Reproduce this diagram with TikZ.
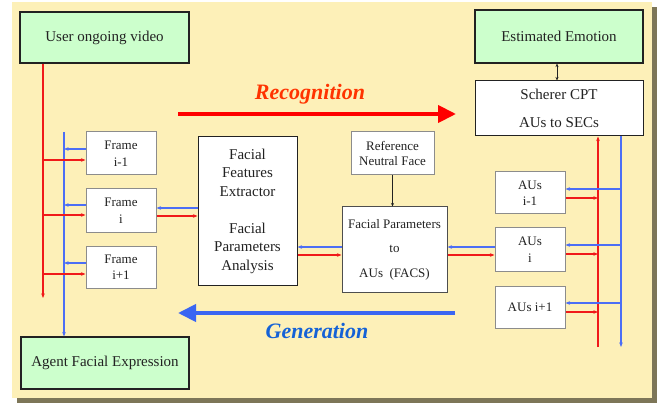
\documentclass[tikz,border=0pt]{standalone}
\usepackage{fontspec}
\setmainfont{Liberation Serif}
\usetikzlibrary{arrows.meta}

\definecolor{panel}{HTML}{FDF0B8}
\definecolor{shadow}{HTML}{7D7658}
\definecolor{mint}{HTML}{CCFFCC}
\definecolor{rline}{HTML}{F01A1A}
\definecolor{bline}{HTML}{4C6EF5}
\definecolor{bigred}{HTML}{FF0000}
\definecolor{bigblue}{HTML}{3A66F2}
\definecolor{rtext}{HTML}{FF3300}
\definecolor{btext}{HTML}{1562D6}
\definecolor{ink}{HTML}{222222}
\definecolor{edge}{HTML}{8C8C8C}

\tikzset{
  box/.style={draw, inner sep=0pt, align=center, text=ink},
  greenbox/.style={box, fill=mint, draw=ink, line width=1.1pt,
    font=\fontsize{15}{18}\selectfont},
  darkbox/.style={box, fill=white, draw=ink, line width=1pt},
  greybox/.style={box, fill=white, draw=edge, line width=1pt,
    font=\fontsize{13}{16.5}\selectfont},
  redwire/.style={draw=rline, line width=1.4pt},
  bluewire/.style={draw=bline, line width=1.3pt},
  tipend/.style={-{Stealth[length=4.5pt,width=3.5pt]}},
  bigarrow/.style={line width=4pt, -{Triangle[length=18pt,width=17pt]}},
  flowlabel/.style={font=\fontsize{22}{26}\selectfont\bfseries\itshape},
}

\begin{document}
\begin{tikzpicture}[x=1pt,y=-1pt]
\useasboundingbox (0,0) rectangle (663,403);

% panel with drop shadow
\fill[shadow] (17,7) rectangle (657,403);
\fill[panel] (12,2) rectangle (652,398);

% main blocks
\node[greenbox, minimum width=169pt, minimum height=51pt] (video) at (104.5,37.5) {User ongoing video};
\node[greenbox, minimum width=168pt, minimum height=53pt] (emotion) at (559,36.5) {Estimated Emotion};
\node[darkbox, minimum width=168pt, minimum height=55pt, font=\fontsize{15}{18}\selectfont]
  (scherer) at (559,108.5) {Scherer CPT\\[10pt]AUs to SECs};
\node[greenbox, minimum width=168pt, minimum height=52pt] (agent) at (105,363) {Agent Facial Expression};

% frames
\node[greybox, minimum width=70pt, minimum height=43pt] (frame1) at (121,153.5) {Frame\\i-1};
\node[greybox, minimum width=70pt, minimum height=43pt] (frame2) at (121,210.5) {Frame\\i};
\node[greybox, minimum width=70pt, minimum height=42pt] (frame3) at (121,267) {Frame\\i+1};

% analysis chain
\node[darkbox, minimum width=99pt, minimum height=148pt, font=\fontsize{15}{18.5}\selectfont]
  (extractor) at (247.5,211) {Facial\\Features\\Extractor\\[18.5pt]Facial\\Parameters\\Analysis};
\node[greybox, minimum width=83pt, minimum height=43pt, font=\fontsize{13}{15}\selectfont]
  (reference) at (392.5,153.5) {Reference\\Neutral Face};
\node[box, fill=white, draw=ink!80, line width=1pt, minimum width=105pt, minimum height=85pt,
  font=\fontsize{13}{24.5}\selectfont] (fp) at (394.5,249.5) {Facial Parameters\\to\\AUs\ \ (FACS)};

% action units
\node[greybox, minimum width=70pt, minimum height=42pt] (aus1) at (530,193) {AUs\\i-1};
\node[greybox, minimum width=70pt, minimum height=43pt] (aus2) at (530,249.5) {AUs\\i};
\node[greybox, minimum width=70pt, minimum height=42pt] (aus3) at (530,307) {AUs i+1};

% flow labels and big arrows
\node[flowlabel, text=rtext] (rec) at (310,94) {Recognition};
\node[flowlabel, text=btext] (gen) at (317,331) {Generation};
\coordinate (recA) at (178,114);
\coordinate (recB) at (456,114);
\draw[bigarrow, draw=bigred, fill=bigred] (recA) -- (recB);
\coordinate (genA) at (455,313);
\coordinate (genB) at (178,313);
\draw[bigarrow, draw=bigblue, fill=bigblue] (genA) -- (genB);

% emotion <-> scherer
\draw[draw=ink, line width=0.8pt, {Stealth[length=3.5pt,width=3pt]}-{Stealth[length=3.5pt,width=3pt]}]
  ([xshift=-2pt]emotion.south) -- ([xshift=-2pt]scherer.north);
% reference face into FACS mapping
\draw[draw=ink, line width=0.8pt, -{Stealth[length=3.5pt,width=3pt]}]
  (reference.south) -- (reference.south |- fp.north);

% left: video distribution (red) and agent collection (blue)
\coordinate (vidDrop) at (43,298);
\draw[redwire, tipend] (video.south -| vidDrop) -- (vidDrop);
\coordinate (agentFeed) at (64,132);
\draw[bluewire, tipend] (agentFeed) -- (agentFeed |- agent.north);
\foreach \f/\r/\b in {frame1/-6.5/4.5, frame2/-4.5/5.5, frame3/-7/4} {
  \path ([yshift=\r pt]\f.west) coordinate (tmp);
  \draw[redwire, tipend] (tmp -| vidDrop) -- (tmp);
  \path ([yshift=\b pt]\f.west) coordinate (tmp);
  \draw[bluewire, tipend] (tmp) -- (tmp -| agentFeed);
}

% frame i <-> extractor
\path ([yshift=3pt]extractor.west) coordinate (tmp);
\draw[bluewire, tipend] (tmp) -- (tmp -| frame2.east);
\path ([yshift=-5pt]extractor.west) coordinate (tmp);
\draw[redwire, tipend] (tmp -| frame2.east) -- (tmp);

% extractor <-> FACS mapping
\path ([yshift=2.5pt]fp.west) coordinate (tmp);
\draw[bluewire, tipend] (tmp) -- (tmp -| extractor.east);
\path ([yshift=-5.5pt]fp.west) coordinate (tmp);
\draw[redwire, tipend] (tmp -| extractor.east) -- (tmp);

% FACS mapping <-> AUs i
\path ([yshift=2.5pt]aus2.west) coordinate (tmp);
\draw[bluewire, tipend] (tmp) -- (tmp -| fp.east);
\path ([yshift=-5.5pt]aus2.west) coordinate (tmp);
\draw[redwire, tipend] (tmp -| fp.east) -- (tmp);

% right: AUs collection (red) and distribution (blue)
\coordinate (sumRed) at (598,347);
\coordinate (fanBlue) at (621,347);
\draw[redwire, line width=2pt, tipend] (sumRed) -- (sumRed |- scherer.south);
\draw[bluewire, tipend] (fanBlue |- scherer.south) -- (fanBlue);
\foreach \a/\b/\r in {aus1/4/-5, aus2/4.5/-4.5, aus3/4/-5} {
  \path ([yshift=\b pt]\a.east) coordinate (tmp);
  \draw[bluewire, tipend] (tmp -| fanBlue) -- (tmp);
  \path ([yshift=\r pt]\a.east) coordinate (tmp);
  \draw[redwire, tipend] (tmp) -- (tmp -| sumRed);
}
\end{tikzpicture}
\end{document}
